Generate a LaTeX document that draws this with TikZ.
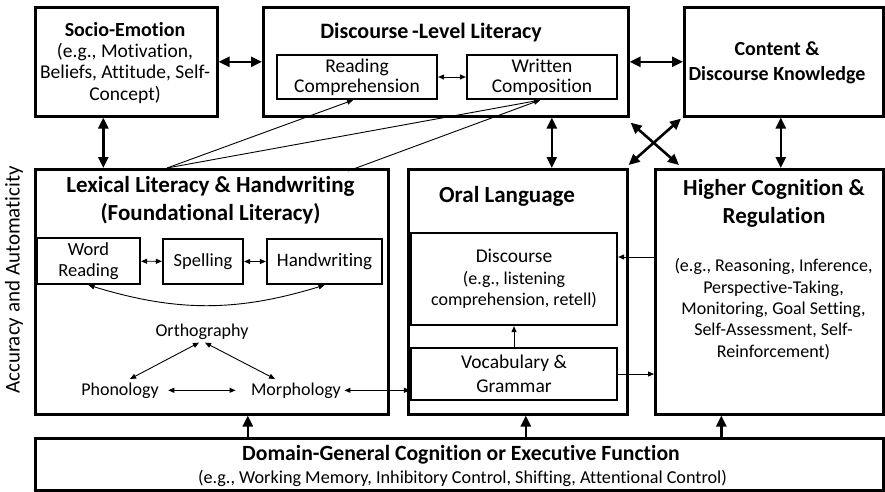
\documentclass[tikz,border=0pt]{standalone}
\usepackage{fontspec}
\setmainfont{Carlito}[Ligatures=NoCommon]
\usetikzlibrary{positioning,arrows.meta,calc}

\newcommand{\fsz}[2]{\fontsize{#1}{#2}\selectfont}

\begin{document}
\begin{tikzpicture}[x=1pt,y=-1pt,
 box/.style = {draw,line width=2.6pt,anchor=north west,inner sep=0pt},
 inbox/.style = {draw,line width=2.2pt,align=center,inner sep=0pt,font=\fsz{19.5}{20}},
 head/.style = {font=\bfseries\fsz{20}{25},align=center,anchor=base},
 bighead/.style = {font=\bfseries\fsz{23}{28},align=center,anchor=base},
 txt/.style = {font=\fsz{19.5}{21.5},align=center,anchor=base},
 small/.style = {font=\fsz{18}{20},anchor=base},
 thk/.style = {line width=2.6pt,>={Triangle[length=11pt,width=10pt]}},
 thn/.style = {line width=0.9pt,>={Triangle[length=6pt,width=5pt]}},
]
\useasboundingbox (0,0) rectangle (885,491);

% top row
\node[box,minimum width=182,minimum height=109] (se) at (34,6) {};
\node[head] (set) at (125,36) {Socio-Emotion};
\node[txt] (seb) at (125,100) {(e.g., Motivation,\\Beliefs, Attitude, Self-\\Concept)};

\node[box,minimum width=365,minimum height=109] (dl) at (262,6) {};
\node[head,font=\bfseries\fsz{22}{25}] (dlt) at (431,38) {Discourse\,-Level Literacy};
\node[inbox,minimum width=160,minimum height=44] (rc) at (357,77) {Reading\\Comprehension};
\node[inbox,minimum width=150,minimum height=44] (wc) at (542,77) {Written\\Composition};

\node[box,minimum width=199,minimum height=109] (cdk) at (683,6) {};
\node[head] (cdkt) at (777,80) {Content \&\\Discourse Knowledge};

% middle row
\node[box,minimum width=353,minimum height=245] (ll) at (34,168) {};
\node[bighead] (llt) at (210.5,220) {Lexical Literacy \& Handwriting\\(Foundational Literacy)};
\node[inbox,minimum width=103,minimum height=46,font=\fsz{18.5}{21}] (wr) at (88.5,261) {Word\\Reading};
\node[inbox,minimum width=80,minimum height=45,font=\fsz{18.5}{21}] (sp) at (203,261.5) {Spelling};
\node[inbox,minimum width=115,minimum height=45,font=\fsz{19}{21}] (hw) at (324.5,261.5) {Handwriting};
\node[small] (orth) at (202,336) {Orthography};
\node[small] (phon) at (120,395) {Phonology};
\node[small] (morph) at (296,395) {Morphology};

\node[box,minimum width=219,minimum height=245] (ol) at (407,168) {};
\node[bighead] (olt) at (507,202) {Oral Language};
\node[inbox,minimum width=206,minimum height=92,font=\fsz{18}{21.5}] (disc) at (514,279) {\fsz{19.5}{21.5}Discourse\\(e.g., listening\\comprehension, retell)};
\node[inbox,minimum width=206,minimum height=52,font=\fsz{19.5}{24.5}] (vg) at (514,374) {Vocabulary \&\\Grammar};

\node[box,minimum width=228,minimum height=245] (hc) at (654,168) {};
\node[bighead] (hct) at (774,223) {Higher Cognition \&\\Regulation};
\node[txt,font=\fsz{18}{21.3}] (hcb) at (773.5,357) {(e.g., Reasoning, Inference,\\Perspective-Taking,\\Monitoring, Goal Setting,\\Self-Assessment, Self-\\Reinforcement)};

% bottom row
\node[box,minimum width=848,minimum height=52] (dg) at (34,437) {};
\node[head,font=\bfseries\fsz{21.7}{24}] (dgt) at (461,460) {Domain-General Cognition or Executive Function};
\node[txt,font=\fsz{18.2}{20}] (dgb) at (462.5,483) {(e.g., Working Memory, Inhibitory Control, Shifting, Attentional Control)};

\node[rotate=90,font=\fsz{21}{24}] (acc) at (14,280) {Accuracy and Automaticity};

% thick links
\draw[thk,<->] (se) -- (dl);
\draw[thk,<->] (dl) -- (cdk);
\draw[thk,<->] ([xshift=-23pt]se.south) -- ([xshift=-23pt]se.south |- ll.north);
\draw[thk,<->] ([xshift=106pt]dl.south) -- ([xshift=106pt]dl.south |- ol.north);
\draw[thk,<->] ([xshift=-3pt]cdk.south) -- ([xshift=-3pt]cdk.south |- hc.north);
\draw[thk,<->] ([xshift=1pt,yshift=-5pt]dl.south east) -- ([xshift=25pt,yshift=3pt]hc.north west);
\draw[thk,<->] ([xshift=-2pt,yshift=-1pt]cdk.south west) -- ([yshift=3pt]ol.north east);
\foreach \n/\dx in {ll/36,ol/8,hc/-48}
  \draw[thk,->] ([xshift=\dx pt]\n.south |- dg.north) -- ([xshift=\dx pt]\n.south);

% thin links
\coordinate (lla) at (167,168);
\coordinate (llb) at (348,171);
\draw[thn,<->] (rc) -- (wc);
\draw[thn,->] (lla) -- ([xshift=-4pt]rc.south);
\draw[thn,->] (lla) -- ([xshift=-2pt]wc.south);
\draw[thn,->] (llb) -- ([xshift=-2pt]wc.south);
\draw[thn,<->] (wr) -- (sp);
\draw[thn,<->] (sp) -- (hw);
\draw[thn,<->] (wr.south) to[bend right=17] (hw.south);
\draw[thn,<->] ([xshift=-3pt]orth.south) -- ([xshift=10pt]phon.north);
\draw[thn,<->] ([xshift=3pt]orth.south) -- ([xshift=-21pt]morph.north);
\draw[thn,<->,shorten <=6pt,shorten >=12pt] (phon) -- (morph);
\draw[thn,<->] (morph.east) -- (morph.east -| vg.west);
\draw[thn,->] (vg) -- (disc);
\coordinate (dh) at ([yshift=22pt]disc.east);
\draw[thn,->] (dh -| hc.west) -- (dh);
\draw[thn,->] (vg.east) -- (vg.east -| hc.west);
\end{tikzpicture}
\end{document}
